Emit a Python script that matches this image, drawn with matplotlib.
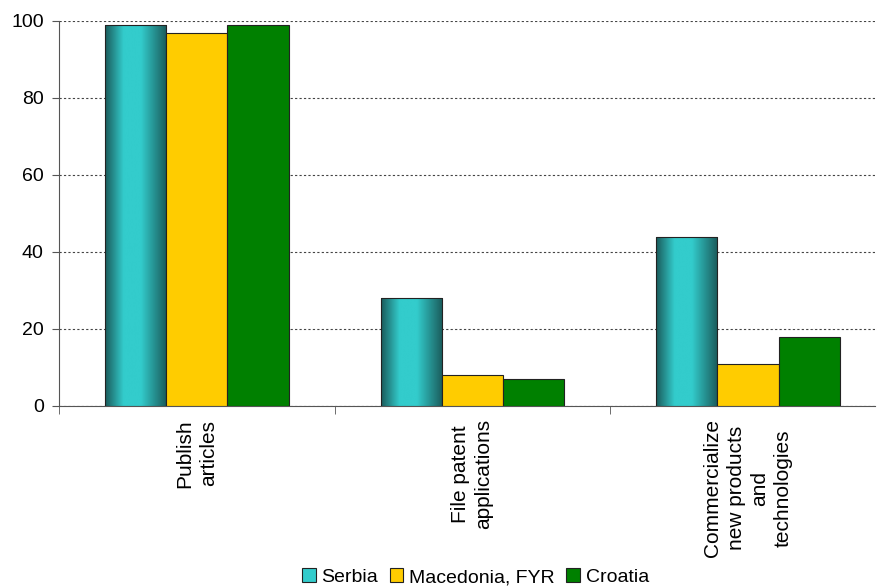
import matplotlib.pyplot as plt
import numpy as np
from matplotlib.colors import LinearSegmentedColormap
from matplotlib.patches import Rectangle

plt.rcParams['font.family'] = ['Liberation Sans', 'DejaVu Sans']

categories = ["Publish\narticles", "File patent\napplications",
              "Commercialize\nnew products\nand\ntechnologies"]
series = ["Serbia", "Macedonia, FYR", "Croatia"]
serbia = [99, 28, 44]
macedonia = [97, 8, 11]
croatia = [99, 7, 18]

teal = LinearSegmentedColormap.from_list(
	"teal", [(0.0, "#1a5a5a"), (0.3, "#33cccc"), (0.58, "#33cccc"), (1.0, "#1a5a5a")])
grad = np.linspace(0, 1, 256).reshape(1, -1)

fig = plt.figure(figsize=(8.79, 5.86), dpi=100)
ax = fig.add_axes([0.0671, 0.3072, 0.928, 0.657])

x = np.arange(len(categories))
w = 0.222
cols = [None, "#ffcc00", "#008000"]
vals = [serbia, macedonia, croatia]
handles = []
for i, (name, v) in enumerate(zip(series, vals)):
	pos = x + (i - 1) * w
	if i == 0:
		bars = ax.bar(pos, v, w, facecolor="none", edgecolor="#222222", lw=0.8, label=name, zorder=3)
		for b in bars:
			x0, y0 = b.get_x(), b.get_y()
			im = ax.imshow(grad, cmap=teal, aspect="auto", zorder=2.9,
			               extent=[x0, x0 + b.get_width(), y0, y0 + b.get_height()])
			im.set_clip_path(b)
		handles.append(Rectangle((0, 0), 1, 1, facecolor="#33cccc", edgecolor="#222222", lw=0.8))
	else:
		ax.bar(pos, v, w, color=cols[i], edgecolor="#222222", lw=0.8, label=name, zorder=3)
		handles.append(Rectangle((0, 0), 1, 1, facecolor=cols[i], edgecolor="#222222", lw=0.8))

ax.set_xlim(-0.5, 2.46)
ax.set_ylim(0, 100)
ax.set_yticks([0, 20, 40, 60, 80, 100])
ax.yaxis.grid(True, linestyle=(0, (2, 2)), color="#444444", lw=0.8, zorder=0)
ax.set_axisbelow(True)

ax.set_xticks(x)
ax.set_xticklabels(categories, rotation=90, ha="center", va="top",
                   multialignment="center", linespacing=1.3)
ax.tick_params(axis="x", length=0, pad=9.5, labelsize=15)
ax.set_xticks([-0.5, 0.5, 1.5], minor=True)
ax.tick_params(axis="x", which="minor", length=6, color="#555555", direction="out")
ax.tick_params(axis="y", length=5, color="#555555", labelsize=14, pad=6)

for s in ["top", "right"]:
	ax.spines[s].set_visible(False)
for s in ["left", "bottom"]:
	ax.spines[s].set_color("#555555")

fig.legend(handles, series, loc="lower center", bbox_to_anchor=(0.541, -0.03), ncol=3,
           frameon=False, fontsize=14, handlelength=0.7, handleheight=0.7,
           handletextpad=0.3, columnspacing=0.6)

fig.savefig("out.png", dpi=100)
